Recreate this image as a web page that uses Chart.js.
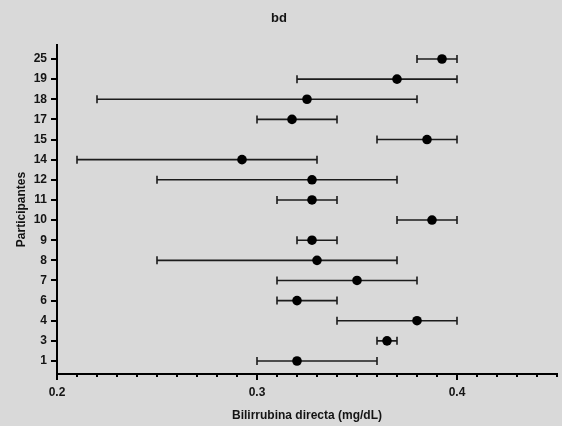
<!DOCTYPE html>
<html>
<head>
<meta charset="utf-8">
<script src="https://cdn.jsdelivr.net/npm/chart.js@4.4.1/dist/chart.umd.min.js"></script>
<style>
  html, body { margin: 0; padding: 0; background: #d9d9d9; }
  #wrap { width: 562px; height: 426px; }
</style>
</head>
<body>
<div id="wrap"><canvas id="bdChart" width="562" height="426"></canvas></div>
<script>
// Participants, top to bottom
const participants = ["25", "19", "18", "17", "15", "14", "12", "11", "10", "9", "8", "7", "6", "4", "3", "1"];
// Mean value and range for each participant (mg/dL)
const means = [0.3925, 0.37, 0.325, 0.3175, 0.385, 0.2925, 0.3275, 0.3275, 0.3875, 0.3275, 0.33, 0.35, 0.32, 0.38, 0.365, 0.32];
const lows = [0.38, 0.32, 0.22, 0.30, 0.36, 0.21, 0.25, 0.31, 0.37, 0.32, 0.25, 0.31, 0.31, 0.34, 0.36, 0.30];
const highs = [0.40, 0.40, 0.38, 0.34, 0.40, 0.33, 0.37, 0.34, 0.40, 0.34, 0.37, 0.38, 0.34, 0.40, 0.37, 0.36];
// Labelled x ticks
const xTickLabels = ["0.2", "0.3", "0.4"];

const FONT = 'Arial, "Liberation Sans", sans-serif';
const INK = "#141414";

function isMajor(v) {
  return xTickLabels.some((t) => Math.abs(parseFloat(t) - v) < 1e-6);
}

// Background fill
const background = {
  id: "background",
  beforeDraw(chart) {
    const ctx = chart.ctx;
    ctx.save();
    ctx.fillStyle = "#d9d9d9";
    ctx.fillRect(0, 0, chart.width, chart.height);
    ctx.restore();
  },
};

// Range whiskers with end caps, plus short minor ticks on the x axis
const errorBars = {
  id: "errorBars",
  beforeDatasetsDraw(chart) {
    const ctx = chart.ctx;
    const xs = chart.scales.x;
    const ys = chart.scales.y;
    ctx.save();
    ctx.strokeStyle = "#1c1c1c";
    ctx.lineWidth = 1.6;
    for (let i = 0; i < participants.length; i++) {
      const y = ys.getPixelForValue(i);
      const x1 = xs.getPixelForValue(lows[i]);
      const x2 = xs.getPixelForValue(highs[i]);
      ctx.beginPath();
      ctx.moveTo(x1, y);
      ctx.lineTo(x2, y);
      ctx.moveTo(x1, y - 4);
      ctx.lineTo(x1, y + 4);
      ctx.moveTo(x2, y - 4);
      ctx.lineTo(x2, y + 4);
      ctx.stroke();
    }
    ctx.restore();
  },
  afterDraw(chart) {
    const ctx = chart.ctx;
    const xs = chart.scales.x;
    ctx.save();
    ctx.strokeStyle = "#000";
    ctx.lineWidth = 2;
    xs.ticks.forEach((t) => {
      if (isMajor(t.value)) return;
      const x = Math.round(xs.getPixelForValue(t.value));
      ctx.beginPath();
      ctx.moveTo(x, xs.top);
      ctx.lineTo(x, xs.top + 3);
      ctx.stroke();
    });
    ctx.restore();
  },
};

const ctx = document.getElementById("bdChart").getContext("2d");
const bdChart = new Chart(ctx, {
  type: "scatter",
  data: {
    datasets: [
      {
        data: means.map((m, i) => ({ x: m, y: i })),
        backgroundColor: "#000",
        borderWidth: 0,
        pointRadius: 4.8,
      },
    ],
  },
  options: {
    responsive: false,
    animation: false,
    layout: { padding: { left: 0, right: 4, top: 0, bottom: 0 } },
    plugins: {
      legend: { display: false },
      tooltip: { enabled: false },
      title: {
        display: true,
        text: "bd",
        color: INK,
        font: { family: FONT, size: 13, weight: "bold" },
        padding: { top: 11, bottom: 18.4 },
      },
    },
    scales: {
      x: {
        type: "linear",
        min: 0.2,
        max: 0.45,
        ticks: {
          stepSize: 0.01,
          autoSkip: false,
          maxRotation: 0,
          padding: 5,
          color: INK,
          font: { family: FONT, size: 12, weight: "bold" },
          callback: (v) => {
            const hit = xTickLabels.find((t) => Math.abs(parseFloat(t) - v) < 1e-6);
            return hit || "";
          },
        },
        grid: {
          display: true,
          drawOnChartArea: false,
          drawTicks: true,
          tickLength: 6,
          lineWidth: 2,
          tickColor: (c) => (c.tick && isMajor(c.tick.value) ? "#000" : "rgba(0,0,0,0)"),
        },
        border: { display: true, color: "#000", width: 2 },
        title: {
          display: true,
          text: "Bilirrubina directa (mg/dL)",
          color: INK,
          font: { family: FONT, size: 12, weight: "bold" },
          padding: { top: 0, bottom: 3 },
        },
        afterFit: (scale) => {
          scale.height = 52;
        },
      },
      y: {
        type: "linear",
        reverse: true,
        min: -0.695,
        max: 15.646,
        afterBuildTicks: (scale) => {
          scale.ticks = participants.map((_, i) => ({ value: i }));
        },
        ticks: {
          autoSkip: false,
          padding: 4,
          color: INK,
          font: { family: FONT, size: 12, weight: "bold" },
          callback: (v) => participants[v],
        },
        grid: {
          display: true,
          drawOnChartArea: false,
          drawTicks: true,
          tickLength: 6,
          lineWidth: 2,
          color: "#000",
        },
        border: { display: true, color: "#000", width: 2 },
        title: {
          display: true,
          text: "Participantes",
          color: INK,
          font: { family: FONT, size: 12, weight: "bold" },
          padding: { top: 14, bottom: 0 },
        },
        afterFit: (scale) => {
          scale.width = 57;
        },
      },
    },
  },
  plugins: [background, errorBars],
});
</script>
</body>
</html>
